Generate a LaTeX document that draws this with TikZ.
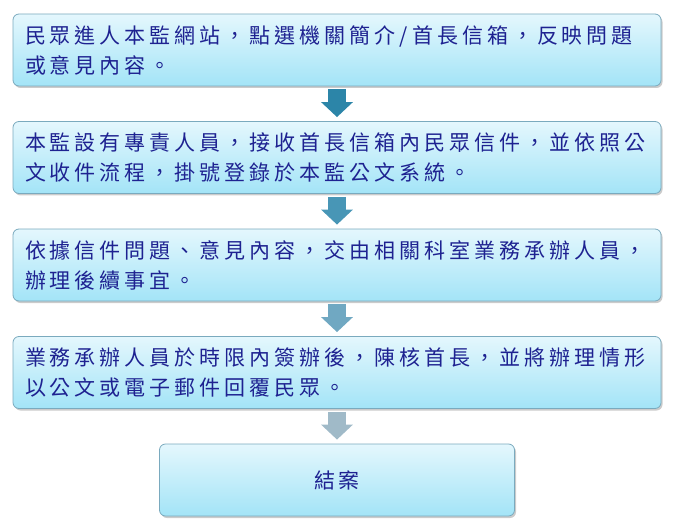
\documentclass[tikz,border=0pt]{standalone}
\usepackage{fontspec}
\newfontfamily\cjk[LetterSpace=19]{Noto Sans CJK TC}
\usetikzlibrary{arrows.meta,shadows}

\definecolor{boxtop}{RGB}{228,247,253}
\definecolor{boxbot}{RGB}{163,228,247}
\definecolor{boxline}{RGB}{122,170,190}
\definecolor{ink}{RGB}{30,34,145}
\definecolor{flowA}{RGB}{44,133,168}
\definecolor{flowB}{RGB}{72,150,182}
\definecolor{flowC}{RGB}{112,168,194}
\definecolor{flowD}{RGB}{160,186,200}

\begin{document}
\begin{tikzpicture}[x=1pt,y=1pt,node distance=107.5pt,
        stepbox/.style={draw=boxline,line width=0.8pt,rounded corners=6pt,
          top color=boxtop,bottom color=boxbot,
          drop shadow={shadow xshift=1.5pt,shadow yshift=-2pt,fill=black!45,opacity=.45},
          text=ink,font=\cjk\fontsize{21}{30}\selectfont,
          minimum height=72pt,inner xsep=12pt},
        wide/.style={stepbox,text width=624pt,align=left},
        flow/.style={line width=18pt,-{Triangle[width=31pt,length=15pt]},
          shorten <=3pt,shorten >=4pt}]

  \useasboundingbox (0,0) rectangle (676,-529);

  \node[wide] (visit) at (337,-50)
    {民眾進人本監網站，點選機關簡介/首長信箱，反映問題\\或意見內容。};
  \node[wide] (receive) [below of=visit]
    {本監設有專責人員，接收首長信箱內民眾信件，並依照公\\文收件流程，掛號登錄於本監公文系統。};
  \node[wide] (assign) [below of=receive]
    {依據信件問題、意見內容，交由相關科室業務承辦人員，\\辦理後續事宜。};
  \node[wide] (reply) [below of=assign]
    {業務承辦人員於時限內簽辦後，陳核首長，並將辦理情形\\以公文或電子郵件回覆民眾。};
  \node[stepbox,minimum width=355pt] (close) [below of=reply] {結案};

  \path (visit)   edge [flow,flowA] (receive)
        (receive) edge [flow,flowB] (assign)
        (assign)  edge [flow,flowC] (reply)
        (reply)   edge [flow,flowD] (close);

\end{tikzpicture}
\end{document}
